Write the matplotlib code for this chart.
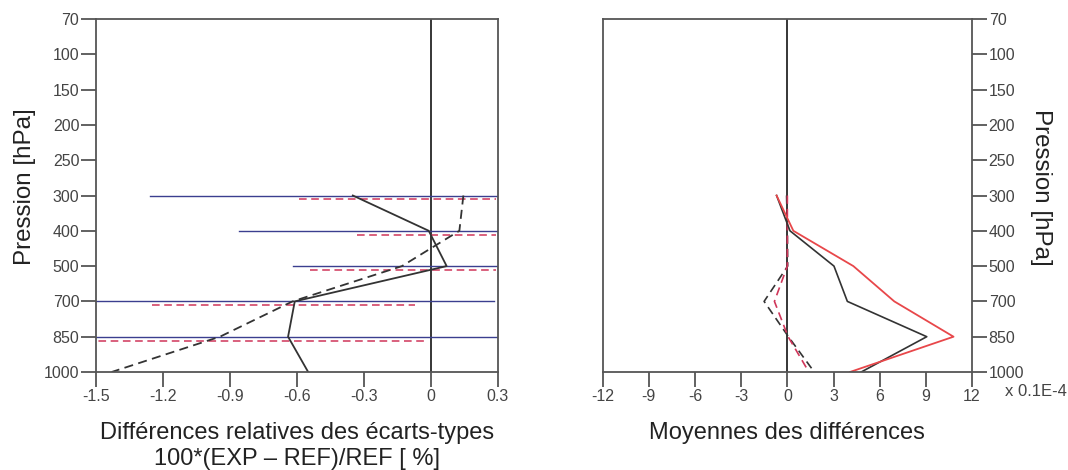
import matplotlib
matplotlib.use("Agg")
import matplotlib.pyplot as plt
import numpy as np

plt.rcParams['font.family'] = ['Liberation Sans', 'DejaVu Sans']
plt.rcParams['axes.unicode_minus'] = False

# ---- data ----
levels = [70, 100, 150, 200, 250, 300, 400, 500, 700, 850, 1000]
prof_levels = [300, 400, 500, 700, 850, 1000]

# left panel: relative differences of std devs (%)
std_solid = [-0.35, -0.01, 0.07, -0.61, -0.64, -0.55]
std_dashed = [0.145, 0.127, -0.13, -0.62, -0.945, -1.43]
bar_levels = [300, 400, 500, 700, 850]
blue_lo = [-1.26, -0.86, -0.62, -1.6, -1.6]
blue_hi = [0.4, 0.4, 0.4, 0.28, 0.4]
red_lo = [-0.59, -0.33, -0.54, -1.25, -1.6]
red_hi = [0.29, 0.29, 0.29, -0.07, -0.015]

# right panel: mean differences (x 0.1E-4)
mean_black = [-0.7, 0.17, 3.03, 3.9, 9.06, 4.8]
mean_red = [-0.7, 0.39, 4.29, 6.95, 10.8, 4.07]
mean_black_dash = [-0.05, 0.0, 0.02, -1.51, 0.07, 1.75]
mean_red_dash = [0.0, 0.0, 0.0, -0.84, 0.05, 1.4]

left_xticks = [-1.5, -1.2, -0.9, -0.6, -0.3, 0, 0.3]
left_xlabels = ['-1.5', '-1.2', '-0.9', '-0.6', '-0.3', '0', '0.3']
right_xticks = [-12, -9, -6, -3, 0, 3, 6, 9, 12]

idx = {p: i for i, p in enumerate(levels)}
py = [idx[p] for p in prof_levels]
by = [idx[p] for p in bar_levels]

fig = plt.figure(figsize=(10.68, 4.70), dpi=100)
axL = fig.add_axes([96/1068, 1-372/470, 402/1068, 353/470])
axR = fig.add_axes([602.7/1068, 1-372/470, 369.3/1068, 353/470])

spine_c = '#555555'
tick_c = '#444444'
blue = '#3b3f8f'
red_d = '#d0365a'
red_s = '#e8474a'

def style(ax, side):
    for s in ax.spines.values():
        s.set_color(spine_c)
        s.set_linewidth(1.3)
    ax.set_ylim(len(levels) - 1, 0)
    ax.set_yticks(range(len(levels)))
    ax.set_yticklabels([str(l) for l in levels])
    ax.tick_params(axis='both', direction='out', length=11, width=1.3,
                   color=spine_c, labelcolor=tick_c, labelsize=11.5, pad=1)
    if side == 'right':
        ax.yaxis.tick_right()
        ax.yaxis.set_label_position('right')

# ---- left panel ----
style(axL, 'left')
axL.set_xlim(-1.5, 0.3)
axL.set_xticks(left_xticks)
axL.set_xticklabels(left_xlabels)
axL.axvline(0, color='black', lw=1.1)
off = 0.11
for y, lo, hi in zip(by, blue_lo, blue_hi):
    axL.plot([lo, hi], [y, y], color=blue, lw=1.0)
for y, lo, hi in zip(by, red_lo, red_hi):
    axL.plot([lo, hi], [y + off, y + off], color=red_d, lw=1.1, dashes=(5, 3))
axL.plot(std_solid, py, color='#333333', lw=1.3)
axL.plot(std_dashed, py, color='#333333', lw=1.3, dashes=(5, 3))
axL.set_ylabel('Pression [hPa]', fontsize=17.4, color='#222222', labelpad=6)
axL.yaxis.label.set_y(0.524)
axL.set_xlabel('Différences relatives des écarts-types\n100*(EXP – REF)/REF [ %]',
               fontsize=17, color='#222222', labelpad=13.5, linespacing=1.2)

# ---- right panel ----
style(axR, 'right')
axR.set_xlim(-12, 12)
axR.set_xticks(right_xticks)
axR.axvline(0, color='black', lw=1.1)
axR.plot(mean_black_dash, py, color='#333333', lw=1.2, dashes=(5, 3))
axR.plot(mean_red_dash, py, color=red_d, lw=1.2, dashes=(5, 3))
axR.plot(mean_black, py, color='#333333', lw=1.2)
axR.plot(mean_red, py, color=red_s, lw=1.3)
axR.set_ylabel('Pression [hPa]', fontsize=17.4, color='#222222', rotation=-90,
               labelpad=20)
axR.yaxis.label.set_y(0.524)
axR.set_xlabel('Moyennes des différences', fontsize=17, color='#222222',
               labelpad=13.5)
axR.text(1.09, -0.035, 'x 0.1E-4', transform=axR.transAxes, fontsize=12,
         color=tick_c, ha='left', va='top')

fig.savefig('out.png', dpi=100)
